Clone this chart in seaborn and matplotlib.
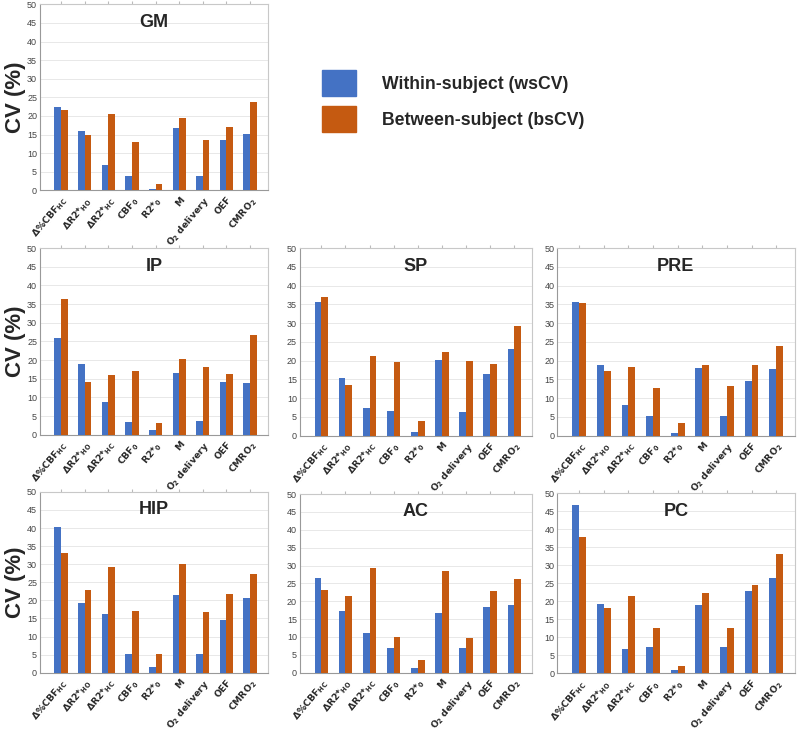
import numpy as np
import pandas as pd
import matplotlib
matplotlib.use('Agg')
import matplotlib.pyplot as plt
import matplotlib.patches as mpatches
import seaborn as sns

# Data
params = [r'$\Delta$%CBF$_{\mathbf{HC}}$', r'$\Delta$R2*$_{\mathbf{HO}}$', r'$\Delta$R2*$_{\mathbf{HC}}$',
          r'CBF$_{\mathbf{0}}$', r'R2*$_{\mathbf{0}}$', 'M', r'O$_{\mathbf{2}}$ delivery', 'OEF',
          r'CMRO$_{\mathbf{2}}$']
regions = ['GM', 'IP', 'SP', 'PRE', 'HIP', 'AC', 'PC']

ws_GM = [22.3, 16.0, 6.7, 3.9, 0.3, 16.7, 3.9, 13.6, 15.2]
bs_GM = [21.6, 15.0, 20.4, 12.9, 1.7, 19.5, 13.6, 16.9, 23.7]
ws_IP = [25.9, 18.9, 8.9, 3.4, 1.2, 16.6, 3.6, 14.1, 14.0]
bs_IP = [36.5, 14.1, 15.9, 17.0, 3.1, 20.4, 18.1, 16.2, 26.7]
ws_SP = [35.5, 15.3, 7.4, 6.5, 1.0, 20.1, 6.3, 16.5, 23.2]
bs_SP = [36.9, 13.4, 21.3, 19.6, 3.8, 22.2, 19.8, 19.0, 29.1]
ws_PRE = [35.7, 18.8, 8.1, 5.3, 0.7, 18.1, 5.3, 14.6, 17.8]
bs_PRE = [35.3, 17.3, 18.3, 12.7, 3.4, 18.8, 13.3, 18.9, 24.0]
ws_HIP = [40.3, 19.2, 16.1, 5.2, 1.5, 21.5, 5.3, 14.7, 20.6]
bs_HIP = [33.0, 23.0, 29.3, 17.1, 5.3, 30.1, 16.7, 21.8, 27.4]
ws_AC = [26.6, 17.4, 11.1, 7.0, 1.4, 16.7, 6.8, 18.3, 18.9]
bs_AC = [23.1, 21.5, 29.2, 9.9, 3.6, 28.4, 9.6, 22.9, 26.1]
ws_PC = [46.8, 19.2, 6.9, 7.4, 1.0, 19.0, 7.4, 22.9, 26.6]
bs_PC = [37.9, 18.1, 21.6, 12.5, 2.0, 22.2, 12.7, 24.5, 33.1]

ws = {'GM': ws_GM, 'IP': ws_IP, 'SP': ws_SP, 'PRE': ws_PRE, 'HIP': ws_HIP, 'AC': ws_AC, 'PC': ws_PC}
bs = {'GM': bs_GM, 'IP': bs_IP, 'SP': bs_SP, 'PRE': bs_PRE, 'HIP': bs_HIP, 'AC': bs_AC, 'PC': bs_PC}

series = ['Within-subject (wsCV)', 'Between-subject (bsCV)']
colors = ['#4472C4', '#C55A11']

rows = []
for r in regions:
    for p, a, b in zip(params, ws[r], bs[r]):
        rows.append((r, p, series[0], a))
        rows.append((r, p, series[1], b))
df = pd.DataFrame(rows, columns=['region', 'param', 'type', 'cv'])

sns.set_style('white')
plt.rcParams['font.family'] = ['Liberation Sans', 'DejaVu Sans']
plt.rcParams['mathtext.default'] = 'bf'

fig = plt.figure(figsize=(7.97, 7.32), dpi=100)

# axes positions [left, bottom, width, height] in figure fraction
pos = {
    'GM':  [0.050, 0.740, 0.286, 0.254],
    'IP':  [0.050, 0.406, 0.286, 0.255],
    'SP':  [0.376, 0.405, 0.292, 0.256],
    'PRE': [0.699, 0.405, 0.298, 0.256],
    'HIP': [0.050, 0.081, 0.286, 0.247],
    'AC':  [0.376, 0.081, 0.292, 0.244],
    'PC':  [0.699, 0.080, 0.298, 0.246],
}

for r in regions:
    ax = fig.add_axes(pos[r])
    ax.patch.set_alpha(0)
    sub = df[df['region'] == r]
    sns.barplot(data=sub, x='param', y='cv', hue='type', palette=colors,
                width=0.56, linewidth=0, saturation=1, ax=ax, legend=False, zorder=3)
    ax.set_ylim(0, 50)
    ax.set_xlim(-0.9, 8.75)
    ax.set_yticks(np.arange(0, 51, 5))
    ax.yaxis.grid(True, color='#e8e8e8', linewidth=0.7, zorder=0)
    ax.set_axisbelow(True)
    ax.tick_params(axis='y', labelsize=6.5, labelcolor='#444444', length=0, pad=2)
    ax.tick_params(axis='x', length=2.5, color='#bbbbbb', top=True, pad=1)
    ax.set_xticks(range(len(params)))
    ax.set_xticklabels(params, rotation=50, ha='right', rotation_mode='anchor',
                       fontweight='bold', fontsize=6.7, family='DejaVu Sans')
    for s in ax.spines.values():
        s.set_color('#c8c8c8')
        s.set_linewidth(0.8)
    ax.spines['left'].set_color('#999999')
    ax.spines['bottom'].set_color('#999999')
    ax.set_xlabel('')
    if r in ('GM', 'IP', 'HIP'):
        ax.set_ylabel('CV (%)', fontsize=16, fontweight='bold')
        ax.yaxis.set_label_coords(-0.06, 0.5)
    else:
        ax.set_ylabel('')
    ax.text(0.5, 0.90, r, transform=ax.transAxes, ha='center', va='center',
            fontsize=13, fontweight='bold')

handles = [mpatches.Patch(color=c, label=s) for c, s in zip(colors, series)]
fig.legend(handles=handles, loc='center left', bbox_to_anchor=(0.393, 0.862),
           frameon=False, prop={'weight': 'bold', 'size': 12.7}, borderpad=0,
           handlelength=1.9, handleheight=1.85, labelspacing=0.6, handletextpad=1.5)

fig.savefig('out.png', dpi=100)
